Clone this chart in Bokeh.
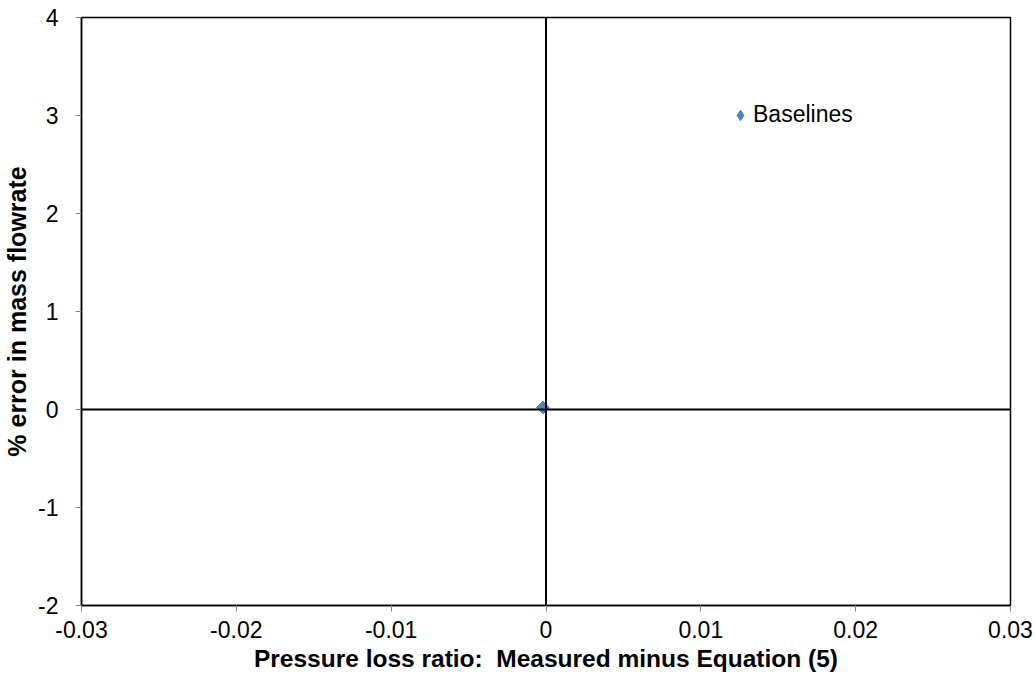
import math
from bokeh.plotting import figure
from bokeh.models import Span, Range1d, FixedTicker, Legend, LegendItem
from bokeh.embed import file_html
from bokeh.resources import INLINE

# Data
series_name = "Baselines"
x_vals = [-0.0002]
y_vals = [0.02]
x_ticks = [-0.03, -0.02, -0.01, 0, 0.01, 0.02, 0.03]
y_ticks = [-2, -1, 0, 1, 2, 3, 4]
x_label = "Pressure loss ratio:\u00a0 Measured minus Equation (5)"
y_label = "% error in mass flowrate"

FONT = "Liberation Sans"
COLOR = "#4F81BD"

p = figure(width=1035, height=682, output_backend="svg", toolbar_location=None,
           x_range=Range1d(-0.03, 0.03), y_range=Range1d(-2, 4),
           min_border_left=79, min_border_right=25, min_border_top=17, min_border_bottom=77)
p.grid.visible = False
p.outline_line_color = "black"
p.outline_line_width = 1.5
p.background_fill_color = "white"
p.border_fill_color = "white"

for ax in (p.xaxis[0], p.yaxis[0]):
    ax.axis_line_color = "black"
    ax.axis_line_width = 1.5
    ax.major_tick_line_color = "#868686"
    ax.major_tick_out = 6
    ax.major_tick_in = 0
    ax.minor_tick_line_color = None
    ax.major_label_text_font = FONT
    ax.major_label_text_font_size = "23px"
    ax.major_label_text_color = "black"
    ax.axis_label_text_font = FONT
    ax.axis_label_text_font_style = "bold"
    ax.axis_label_text_color = "black"

p.xaxis[0].axis_label_text_font_size = "24.5px"
p.yaxis[0].axis_label_text_font_size = "25px"
p.xaxis[0].ticker = FixedTicker(ticks=x_ticks)
p.yaxis[0].ticker = FixedTicker(ticks=y_ticks)
p.xaxis[0].major_label_overrides = {t: ("0" if t == 0 else f"{t:.2f}") for t in x_ticks}
p.yaxis[0].major_label_overrides = {t: str(t) for t in y_ticks}
p.xaxis[0].major_label_standoff = 9
p.yaxis[0].major_label_standoff = 17
p.xaxis[0].axis_label = x_label
p.yaxis[0].axis_label = y_label
p.xaxis[0].axis_label_standoff = 4
p.yaxis[0].axis_label_standoff = 4

p.add_layout(Span(location=0, dimension="height", line_color="black", line_width=2))
p.add_layout(Span(location=0, dimension="width", line_color="black", line_width=2))

# diamond glyph used as the legend key (hidden under the data marker)
proxy = p.scatter(x_vals, y_vals, marker="diamond", size=12, fill_color=COLOR, line_color=COLOR)
r = p.scatter(x_vals, y_vals, marker="square", size=9, angle=math.pi / 4,
              fill_color=COLOR, line_color=COLOR)

legend = Legend(items=[LegendItem(label=series_name, renderers=[proxy])],
                location=(646, 477), border_line_color=None, background_fill_alpha=0,
                padding=0, margin=0, spacing=0, glyph_width=26, glyph_height=26,
                label_standoff=-2, label_text_font=FONT, label_text_font_size="23px",
                label_text_color="black")
p.add_layout(legend)

open("out.html", "w").write(file_html(p, INLINE))
